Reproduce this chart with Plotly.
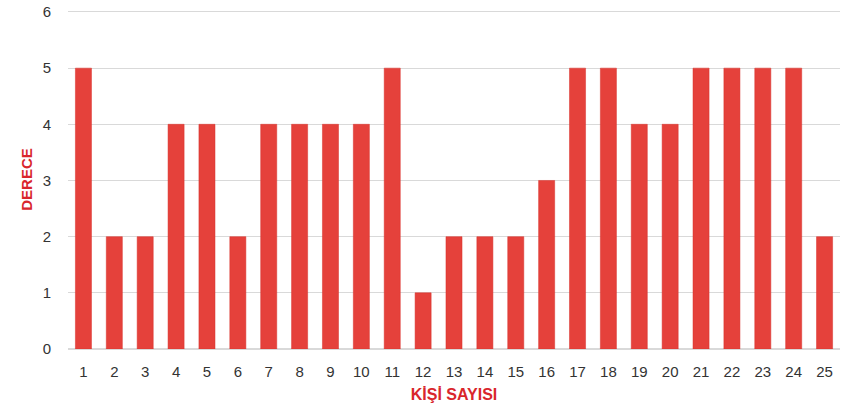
import plotly.graph_objects as go

categories = [str(i) for i in range(1, 26)]
values = [5, 2, 2, 4, 4, 2, 4, 4, 4, 4, 5, 1, 2, 2, 2, 3, 5, 5, 4, 4, 5, 5, 5, 5, 2]
y_ticks = [0, 1, 2, 3, 4, 5, 6]

fig = go.Figure(go.Bar(
    x=categories, y=values,
    marker=dict(color="#e5413b", line=dict(color="#d8302b", width=0.5)),
    width=0.52,
))

fig.update_layout(
    width=842, height=409,
    margin=dict(l=68, r=2, t=10, b=60),
    plot_bgcolor="white", paper_bgcolor="white",
    font=dict(family="Arial, Liberation Sans, sans-serif", size=15, color="#333333"),
    showlegend=False,
)
fig.update_xaxes(
    type="category", showgrid=False, showline=False, ticks="", automargin=False,
    ticklabelstandoff=12, ticklabeloverflow="allow",
    tickfont=dict(size=15, color="#333333"),
    title=dict(text="<b>KİŞİ SAYISI</b>", font=dict(size=16, color="#d9262c"), standoff=9),
)
fig.update_yaxes(
    range=[0, 6.035], tickvals=y_ticks, showgrid=True, gridcolor="#d9d9d9", gridwidth=1,
    zeroline=True, zerolinecolor="#d9d9d9", showline=False, ticks="", automargin=False,
    ticklabelstandoff=16, ticklabeloverflow="allow",
    tickfont=dict(size=15, color="#333333"),
    title=dict(text="<b>DERECE</b>", font=dict(size=15, color="#d9262c"), standoff=6),
)

fig.write_html("out.html", config={"displayModeBar": False},
               post_script="document.body.style.margin='0';")
